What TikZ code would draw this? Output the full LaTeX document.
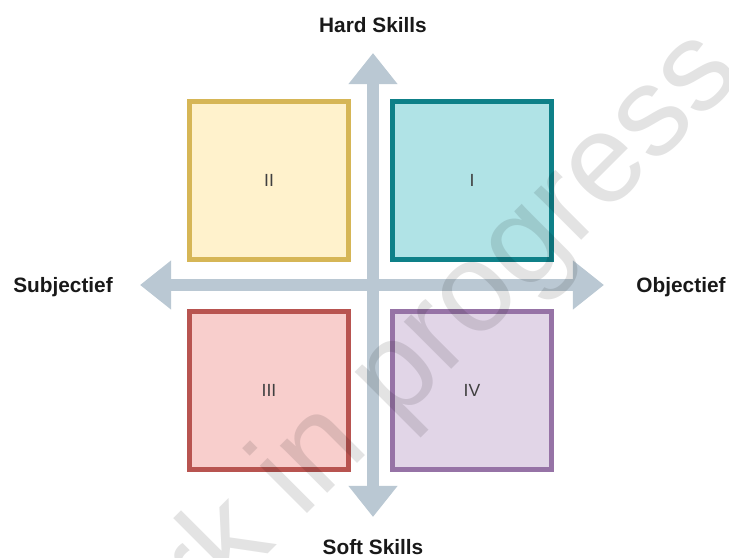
\documentclass[tikz,border=0pt]{standalone}
\usepackage{fontspec}
\setmainfont{Liberation Sans}
\usepackage{xcolor}
\usetikzlibrary{arrows.meta,positioning,calc}

\definecolor{axisgray}{HTML}{BAC8D3}
\definecolor{yelfill}{HTML}{FFF2CC}
\definecolor{yeldraw}{HTML}{D6B656}
\definecolor{tealfill}{HTML}{B0E3E6}
\definecolor{tealdraw}{HTML}{0E8088}
\definecolor{redfill}{HTML}{F8CECC}
\definecolor{reddraw}{HTML}{B85450}
\definecolor{purfill}{HTML}{E1D5E7}
\definecolor{purdraw}{HTML}{9673A6}

\begin{document}
\begin{tikzpicture}[x=0.025cm, y=-0.025cm,
    quad/.style={rectangle, line width=0.125cm, minimum width=3.95cm, minimum height=3.95cm, align=center, text=black!75, font=\fontsize{12.5}{15}\selectfont},
    axis/.style={line width=0.32cm, draw=axisgray, {Triangle[length=0.78cm, width=1.18cm]}-{Triangle[length=0.78cm, width=1.18cm]}},
    axislabel/.style={font=\bfseries\fontsize{14.8}{17}\selectfont, text=black!90}]

\useasboundingbox (0,0) rectangle (729,558);

% Axis end points
\coordinate (top) at (373, 53);
\coordinate (bottom) at (373, 517);
\coordinate (left) at (140, 285);
\coordinate (right) at (604, 285);

% Axes
\draw[axis] (left) -- (right);
\draw[axis] (bottom) -- (top);

% Quadrants
\node[quad, draw=tealdraw, fill=tealfill] (q1) at (472, 180.5) {I};
\node[quad, draw=yeldraw, fill=yelfill] (q2) at (269, 180.5) {II};
\node[quad, draw=reddraw, fill=redfill] (q3) at (269, 390.5) {III};
\node[quad, draw=purdraw, fill=purfill] (q4) at (472, 390.5) {IV};

% Axis labels
\node[axislabel] (hard) at (373, 25) {Hard Skills};
\node[axislabel] (soft) at (373, 547) {Soft Skills};
\node[axislabel] (subj) at (63, 287) {Subjectief};
\node[axislabel] (obj) at (681, 287) {Objectief};

% Watermark
\node[rotate=45, text=black, text opacity=0.11, font=\fontsize{90}{90}\selectfont] (mark) at (393, 382) {work in progress};

\end{tikzpicture}
\end{document}
